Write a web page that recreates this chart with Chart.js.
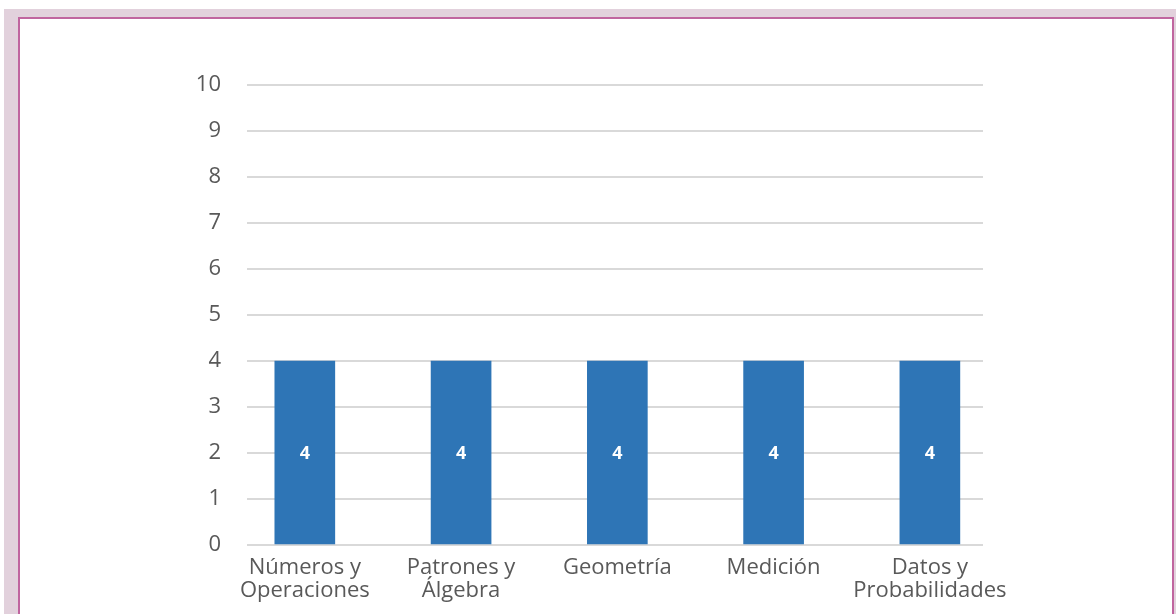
<!DOCTYPE html>
<html>
<head>
<meta charset="utf-8">
<script src="https://cdn.jsdelivr.net/npm/chart.js@4/dist/chart.umd.min.js"></script>
<style>
  html, body { margin: 0; padding: 0; background: #fff; width: 1176px; height: 614px; overflow: hidden; }
  #marco { position: absolute; left: 4px; top: 9px; right: 0; bottom: 0; background: #e2d1dc; }
  #hoja { position: absolute; left: 18px; top: 17px; width: 1156px; height: 620px; background: #fff; border: 2px solid #c0659f; box-sizing: border-box; }
  #grafico { position: absolute; left: 0; top: 0; }
</style>
</head>
<body>
<div id="marco"></div>
<div id="hoja"></div>
<canvas id="grafico" width="1176" height="614"></canvas>

<script>
const categorias = [
    ["Números y", "Operaciones"],
    ["Patrones y", "Álgebra"],
    ["Geometría"],
    ["Medición"],
    ["Datos y", "Probabilidades"]
];
const valores = [4, 4, 4, 4, 4];
const marcasY = [0, 1, 2, 3, 4, 5, 6, 7, 8, 9, 10];

// etiquetas blancas en el centro de cada barra
const etiquetasBarras = {
    id: "etiquetasBarras",
    afterDatasetsDraw(chart) {
        const ctx = chart.ctx;
        const meta = chart.getDatasetMeta(0);
        ctx.save();
        ctx.fillStyle = "#ffffff";
        ctx.font = "bold 18px 'Open Sans'";
        ctx.textAlign = "center";
        ctx.textBaseline = "middle";
        meta.data.forEach((barra, i) => {
            const medio = (barra.y + barra.base) / 2 + 1;
            ctx.fillText(String(valores[i]), barra.x, medio);
        });
        ctx.restore();
    }
};

const ctx = document.getElementById("grafico").getContext("2d");

new Chart(ctx, {
    type: "bar",
    data: {
        datasets: [{
            data: valores.map((v, i) => ({ x: i, y: v })),
            backgroundColor: "#2e75b6",
            barThickness: 60
        }]
    },
    options: {
        responsive: false,
        animation: false,
        layout: { padding: { top: 85, right: 193, left: 0, bottom: 0 } },
        plugins: { legend: { display: false }, tooltip: { enabled: false } },
        scales: {
            x: {
                type: "linear",
                offset: false,
                min: -0.37,
                max: 4.34,
                grid: { display: false, offset: false },
                border: { display: false },
                afterFit: s => { s.height = 69; },
                ticks: {
                    stepSize: 1,
                    includeBounds: false,
                    autoSkip: false,
                    maxRotation: 0,
                    padding: 4,
                    color: "#595959",
                    font: { family: "'Open Sans'", size: 22, lineHeight: 1.02 },
                    callback: v => (Number.isInteger(v) && categorias[v]) ? categorias[v] : ""
                }
            },
            y: {
                min: marcasY[0],
                max: marcasY[marcasY.length - 1],
                afterFit: s => { s.width = 247; },
                border: { display: false },
                grid: { color: "#d9d9d9", lineWidth: 2, drawTicks: false },
                ticks: {
                    stepSize: 1,
                    padding: 26,
                    color: "#595959",
                    font: { family: "'Open Sans'", size: 22 }
                }
            }
        }
    },
    plugins: [etiquetasBarras]
});
</script>
</body>
</html>
